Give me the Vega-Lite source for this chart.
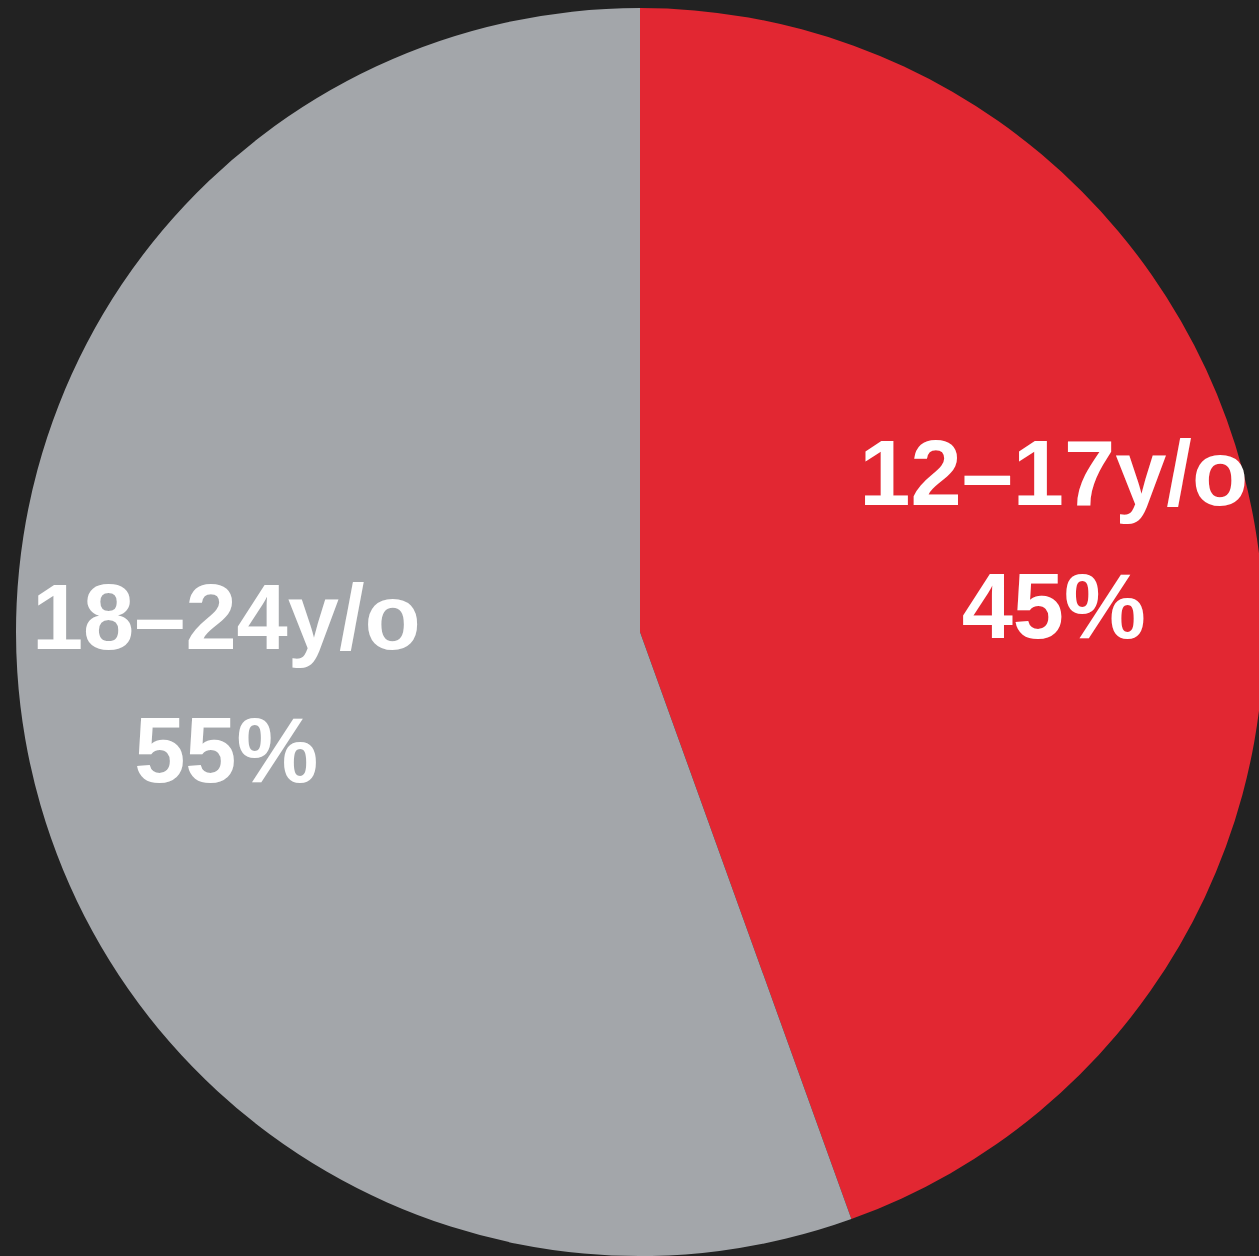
{
  "$schema": "https://vega.github.io/schema/vega-lite/v6.json",
  "autosize": {"type": "none"},
  "width": 1238,
  "height": 1248,
  "padding": {"left": 21, "top": 8, "right": 0, "bottom": 0},
  "background": "#222222",
  "config": {"view": {"stroke": null}},
  "data": {
    "values": [
      {"group": "12–17y/o", "share": 44.5, "label": ["12–17y/o", "45%"]},
      {"group": "18–24y/o", "share": 55.5, "label": ["18–24y/o", "55%"]}
    ]
  },
  "encoding": {
    "theta": {"field": "share", "type": "quantitative", "stack": true},
    "color": {
      "field": "group",
      "type": "nominal",
      "scale": {"domain": ["12–17y/o", "18–24y/o"], "range": ["#E22732", "#A3A6AA"]},
      "legend": null
    },
    "order": {"field": "group", "sort": "ascending"}
  },
  "layer": [
    {"mark": {"type": "arc", "outerRadius": 624}},
    {
      "mark": {
        "type": "text",
        "radius": 420,
        "dy": -83,
        "font": "Liberation Sans, Arial, sans-serif",
        "fontWeight": "bold",
        "fontSize": 92,
        "lineHeight": 133,
        "align": "center",
        "baseline": "middle"
      },
      "encoding": {
        "text": {"field": "label"},
        "color": {"value": "#FFFFFF"}
      }
    }
  ]
}
